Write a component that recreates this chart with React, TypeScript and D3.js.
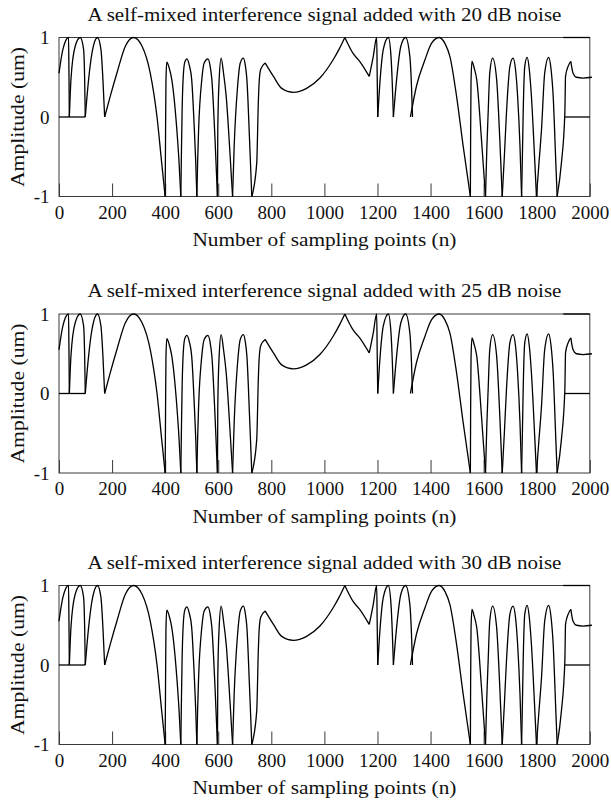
import { useRef, useEffect } from 'react';
import * as d3 from 'd3';

type Pt = [number, number];

const noiseLevels = [20, 25, 30];
const xTicks = [0, 200, 400, 600, 800, 1000, 1200, 1400, 1600, 1800, 2000];
const yTicks = [-1, 0, 1];

// one piece per fringe, split at the cusps and pointed peaks so they stay sharp
const fringes: Pt[][] = [
  [[0, 0.55], [14, 0.84], [36, 1], [37.5, 0.55], [39, 0]],
  [[39, 0], [45, 0.47], [61, 0.89], [80, 1], [92.7, 0.85], [96.5, 0.5], [99, 0]],
  [[99, 0], [111.5, 0.47], [124, 0.8], [145, 1], [158, 0.85], [165.5, 0.47], [172, 0]],
  [[172, 0], [193, 0.26], [218, 0.55], [250, 0.89], [281, 1], [313, 0.89], [344, 0.55], [369, 0.01], [387, -0.58], [400, -1]],
  [[400, -1], [401.5, -0.2], [403, 0.45], [406, 0.69], [415, 0.62], [425, 0.47], [444, -0.16], [452, -0.55], [459, -1]],
  [[459, -1], [461.5, -0.4], [464, 0.1], [468, 0.5], [474, 0.69], [482, 0.73], [491, 0.65], [500, 0.47], [510, -0.16], [515, -0.55], [519.5, -1]],
  [[519.5, -1], [522, -0.6], [526, -0.16], [538, 0.47], [547, 0.68], [561, 0.73], [569, 0.65], [576, 0.47], [588, -0.29], [597, -1]],
  [[597, -1], [598.3, -0.16], [603.4, 0.47], [611, 0.74], [620, 0.55], [630, 0.26], [645, -0.5], [654, -1]],
  [[654, -1], [660, -0.37], [673, 0.39], [683, 0.68], [695, 0.74], [702, 0.65], [708, 0.47], [718, -0.29], [726.5, -1]],
  [[726.5, -1], [745, -0.58], [751, 0.18], [754, 0.43], [760, 0.6], [776.6, 0.68]],
  [[776.6, 0.68], [808, 0.51], [839, 0.36], [883, 0.31], [933, 0.36], [983, 0.49], [1033, 0.72], [1058, 0.87], [1077, 1]],
  [[1077, 1], [1108, 0.8], [1133, 0.7], [1169, 0.51]],
  [[1169, 0.51], [1184, 0.76], [1197, 1], [1199, 0.5], [1201, 0]],
  [[1201, 0], [1210, 0.47], [1222, 0.85], [1241, 1], [1251, 0.76], [1256, 0.4], [1260, 0]],
  [[1260, 0], [1272, 0.47], [1288, 0.89], [1306, 1], [1322, 0.76], [1328, 0.4], [1332, 0]],
  [[1324, 0], [1347, 0.39], [1379, 0.72], [1404, 0.93], [1433, 1], [1455, 0.92], [1473, 0.76], [1498, 0.26], [1523, -0.37], [1550, -1]],
  [[1550, -1], [1551, -0.2], [1552.5, 0.45], [1556, 0.7], [1564, 0.62], [1574, 0.47], [1592, -0.29], [1607, -1]],
  [[1607, -1], [1612, -0.4], [1617, 0.05], [1623, 0.55], [1634, 0.74], [1649, 0.47], [1661, -0.29], [1670, -1]],
  [[1670, -1], [1678, -0.5], [1686, 0.05], [1699, 0.64], [1711, 0.74], [1720, 0.6], [1728, 0.26], [1737, -0.37], [1743, -1]],
  [[1743, -1], [1746, -0.5], [1749, 0.05], [1755, 0.64], [1764, 0.75], [1772, 0.6], [1780, 0.26], [1793, -0.58], [1799, -1]],
  [[1799, -1], [1808, -0.6], [1818, -0.16], [1830, 0.55], [1845, 0.75], [1854, 0.6], [1862, 0.26], [1872, -0.58], [1877, -1]],
  [[1877, -1], [1893, -0.58], [1906, 0.05], [1908.6, 0.51], [1918.6, 0.64], [1928.5, 0.7]],
  [[1928.5, 0.7], [1937, 0.55], [1949.6, 0.5], [1974.7, 0.49], [2008, 0.5]],
];

// flat stretches at the ends
const flats: Pt[][] = [
  [[0, 0], [99, 0]],
  [[1906, 0], [2000, 0]],
  [[1900, 1], [2000, 1]],
];

export default function App() {
  const svgRef = useRef<SVGSVGElement>(null);

  useEffect(() => {
    if (!svgRef.current) return;
    const svg = d3.select(svgRef.current);
    svg.selectAll('*').remove();

    const left = 59;
    const right = 589.8;
    const plotH = 159;
    const tops = [37.5, 314, 585.5];
    const font = '"Liberation Serif", "Times New Roman", serif';
    const fs = 19;

    const x = d3.scaleLinear().domain([0, 2000]).range([left, right]);

    noiseLevels.forEach((db, i) => {
      const top = tops[i];
      const bottom = top + plotH;
      const y = d3.scaleLinear().domain([-1, 1]).range([bottom, top]);
      const g = svg.append('g');

      // box
      g.append('rect')
        .attr('x', left)
        .attr('y', top)
        .attr('width', right - left)
        .attr('height', plotH)
        .attr('fill', 'none')
        .attr('stroke', '#3a3a3a')
        .attr('stroke-width', 1);

      // X axis, ticks pointing in
      g.append('g')
        .attr('transform', `translate(0,${bottom})`)
        .call(d3.axisBottom(x).tickValues(xTicks).tickSizeInner(-13).tickSizeOuter(0).tickPadding(9).tickFormat(d => String(d)))
        .call(a => a.select('.domain').remove())
        .call(a => a.selectAll('.tick line').attr('stroke', '#3a3a3a'))
        .call(a => a.selectAll('.tick text').attr('fill', '#111').attr('font-size', fs).attr('font-family', font));

      // Y axis
      g.append('g')
        .attr('transform', `translate(${left},0)`)
        .call(d3.axisLeft(y).tickValues(yTicks).tickSize(0).tickPadding(9.5).tickFormat(d => String(d)))
        .call(a => a.select('.domain').remove())
        .call(a => a.selectAll('.tick text').attr('fill', '#111').attr('font-size', fs).attr('font-family', font));

      const line = d3.line<Pt>()
        .x(d => x(d[0]))
        .y(d => y(d[1]))
        .curve(d3.curveMonotoneX);

      g.selectAll('path.sig')
        .data([...fringes, ...flats])
        .join('path')
        .attr('class', 'sig')
        .attr('d', d => line(d))
        .attr('fill', 'none')
        .attr('stroke', '#000')
        .attr('stroke-width', 1.3)
        .attr('stroke-linejoin', 'round');

      // title
      g.append('text')
        .attr('x', (left + right) / 2)
        .attr('y', top - 17)
        .attr('text-anchor', 'middle')
        .attr('font-family', font)
        .attr('font-size', fs)
        .attr('fill', '#111')
        .attr('textLength', 474)
        .attr('lengthAdjust', 'spacingAndGlyphs')
        .text(`A self-mixed interference signal added with ${db} dB noise`);

      // x label
      g.append('text')
        .attr('x', (left + right) / 2)
        .attr('y', bottom + 49.5)
        .attr('text-anchor', 'middle')
        .attr('font-family', font)
        .attr('font-size', fs)
        .attr('fill', '#111')
        .attr('textLength', 264)
        .attr('lengthAdjust', 'spacingAndGlyphs')
        .text('Number of sampling points (n)');

      // y label
      g.append('text')
        .attr('transform', `translate(24,${(top + bottom) / 2}) rotate(-90)`)
        .attr('text-anchor', 'middle')
        .attr('font-family', font)
        .attr('font-size', fs)
        .attr('fill', '#111')
        .attr('textLength', 140)
        .attr('lengthAdjust', 'spacingAndGlyphs')
        .text('Amplitude (um)');
    });
  }, []);

  return (
    <svg
      ref={svgRef}
      width={611}
      height={808}
      style={{ position: 'absolute', left: 0, top: 0, background: '#fff' }}
    />
  );
}
